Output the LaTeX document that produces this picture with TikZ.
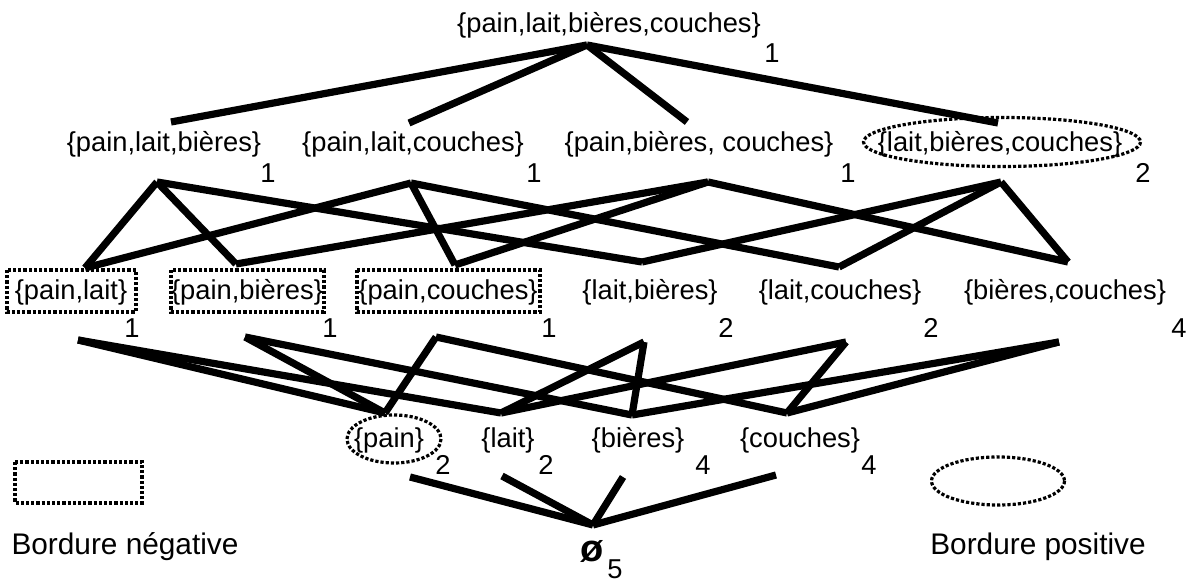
\documentclass[tikz,border=0pt]{standalone}
\usepackage{fontspec}
\setmainfont{Liberation Sans}
\usetikzlibrary{calc}
\newcommand{\itemset}[7]{ % id, pos, label, support pos, support, top point, bottom point
  \node[lbl] (#1) at #2 {#3};
  \node[lbl] (#1_sup) at #4 {#5};
  \coordinate (#1_t) at #6; % where the edges from above arrive
  \coordinate (#1_b) at #7; % where the edges to below leave
}

\begin{document}
\begin{tikzpicture}[x=0.5pt,y=-0.5pt]

    % Styles for labels, edges and borders
      \tikzset{lbl/.style={inner sep=0pt, font=\fontsize{13.65}{16}\selectfont}}
    \tikzset{legende/.style={inner sep=0pt, font=\fontsize{14.9}{18}\selectfont}}
    \tikzset{arete/.style={line width=3.6pt}}
    \tikzset{bord/.style={line width=1.6pt, dash pattern=on 1.6pt off 1pt}}

    \useasboundingbox (0,0) rectangle (1187,581);

    % Level 4
      \itemset{plbc}{(609,25)}{\{pain,lait,bières,couches\}}{(772,53)}{1}{(587,45)}{(587,45)}

    % Level 3
      \itemset{plb}{(164,144)}{\{pain,lait,bières\}}{(268,173)}{1}{(171,122)}{(157,182)}
    \itemset{plc}{(413,144)}{\{pain,lait,couches\}}{(534,173)}{1}{(409,123)}{(411,183)}
    \itemset{pbc}{(699,144)}{\{pain,bières, couches\}}{(848,173)}{1}{(687,122)}{(708,182)}
    \itemset{lbc}{(1000,144)}{\{lait,bières,couches\}}{(1143,173)}{2}{(998,123)}{(1001,182)}

    % Level 2
      \itemset{pl}{(71,292)}{\{pain,lait\}}{(132,328)}{1}{(85,268)}{(78,340)}
    \itemset{pb}{(247,292)}{\{pain,bières\}}{(330,328)}{1}{(236,264)}{(245,337)}
    \itemset{pc}{(448,292)}{\{pain,couches\}}{(549,328)}{1}{(455,265)}{(436,337)}
    \itemset{lb}{(650,292)}{\{lait,bières\}}{(726,328)}{2}{(642,262)}{(644,342)}
    \itemset{lc}{(840,292)}{\{lait,couches\}}{(931,328)}{2}{(839,267)}{(846,342)}
    \itemset{bc}{(1065,292)}{\{bières,couches\}}{(1179,328)}{4}{(1068,262)}{(1059,342)}

    % Level 1
      \itemset{p}{(389,440)}{\{pain\}}{(443,465)}{2}{(385,413)}{(410,477)}
    \itemset{l}{(508,440)}{\{lait\}}{(546,465)}{2}{(501,413)}{(502,476)}
    \itemset{b}{(638,440)}{\{bières\}}{(703,465)}{4}{(632,415)}{(623,477)}
    \itemset{c}{(800,440)}{\{couches\}}{(869,465)}{4}{(787,413)}{(776,475)}

    % Empty set
      \itemset{vide}{(592,551)}{\fontsize{19}{21}\selectfont\textbf{ø}}{(615,569)}{5}{(593,525)}{(593,525)}

    % Edges of the lattice
      \foreach \s in {plb,plc,pbc,lbc}
      \draw[arete] (plbc_b) -- (\s_t);
    \foreach \s in {pl,pb,lb}
      \draw[arete] (plb_b) -- (\s_t);
    \foreach \s in {pl,pc,lc}
      \draw[arete] (plc_b) -- (\s_t);
    \foreach \s in {pb,pc,bc}
      \draw[arete] (pbc_b) -- (\s_t);
    \foreach \s in {lb,lc,bc}
      \draw[arete] (lbc_b) -- (\s_t);
    \foreach \s in {p,l}
      \draw[arete] (pl_b) -- (\s_t);
    \foreach \s in {p,b}
      \draw[arete] (pb_b) -- (\s_t);
    \foreach \s in {p,c}
      \draw[arete] (pc_b) -- (\s_t);
    \foreach \s in {l,b}
      \draw[arete] (lb_b) -- (\s_t);
    \foreach \s in {l,c}
      \draw[arete] (lc_b) -- (\s_t);
    \foreach \s in {b,c}
      \draw[arete] (bc_b) -- (\s_t);
    \foreach \s in {p,l,b,c}
      \draw[arete] (\s_b) -- (vide_t);

    % Negative border: dotted boxes
      \draw[bord] (7,270) rectangle (136,312);
    \draw[bord] (171,270) rectangle (324,312);
    \draw[bord] (357,270) rectangle (540,312);

    % Positive border: dotted ellipses
      \draw[bord] (1002,142) ellipse [x radius=138.5, y radius=24.5];
    \draw[bord] (394,439) ellipse [x radius=47, y radius=24];

    % Legend
      \draw[bord] (15,462) rectangle (142,503);
    \node[legende] (neg) at (125,547) {Bordure négative};
    \draw[bord] (998,481) ellipse [x radius=66.5, y radius=24];
    \node[legende] (pos) at (1038,547) {Bordure positive};

\end{tikzpicture}
\end{document}
